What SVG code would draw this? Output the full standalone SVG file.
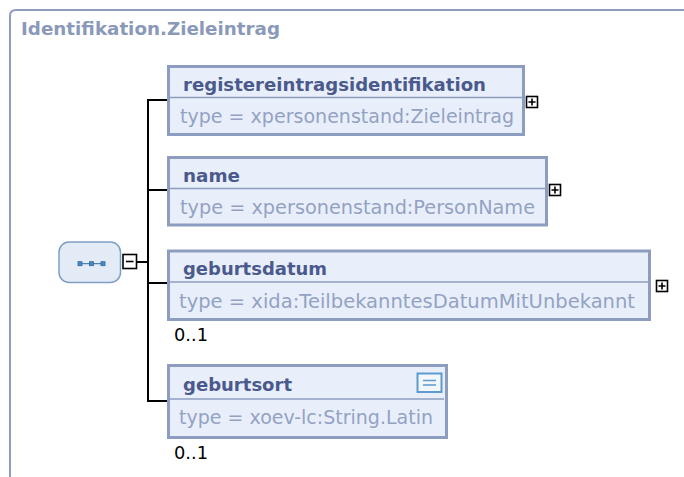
<svg xmlns="http://www.w3.org/2000/svg" width="684" height="477" viewBox="0 0 684 477">
<style>
.frame{fill:none;stroke:#8d9dc0;stroke-width:2}
.title{font-family:"DejaVu Sans",Verdana,sans-serif;font-weight:bold;font-size:18px;fill:#8a99ba}
.box{fill:#e9effa;stroke:#8d9dc0;stroke-width:3}
.div{stroke:#8d9dc0;stroke-width:1.5}
.hdr{font-family:"DejaVu Sans",Verdana,sans-serif;font-weight:bold;font-size:18.5px;fill:#4b5a8c}
.typ{font-family:"DejaVu Sans",Verdana,sans-serif;font-size:19px;fill:#93a2c4}
.occ{font-family:"DejaVu Sans",Verdana,sans-serif;font-size:18px;fill:#000}
.conn{fill:none;stroke:#000;stroke-width:2}
.tog{fill:#fff;stroke:#000;stroke-width:1.6}
.sign{stroke:#000;stroke-width:1.6}
</style>
<path class="frame" d="M10,477 V16 Q10,10 16,10 H684"/>
<text class="title" x="21" y="35" textLength="259" lengthAdjust="spacingAndGlyphs">Identifikation.Zieleintrag</text>

<g id="connectors">
<path class="conn" d="M137,262 H148 M148,99 V402 M148,100 H168 M148,190 H168 M148,283 H168 M148,401 H168"/>
</g>

<g id="sequence">
<rect x="59" y="242" width="61.5" height="40.5" rx="10" fill="#e2ebf6" stroke="#7f9ec5" stroke-width="1.5"/>
<path d="M80,263.7 H103" stroke="#2e6aa3" stroke-width="1"/>
<rect x="78" y="261.7" width="4" height="4" fill="#4a88c2" stroke="#2e6aa3" stroke-width="0.8"/>
<rect x="89.5" y="261.7" width="4" height="4" fill="#4a88c2" stroke="#2e6aa3" stroke-width="0.8"/>
<rect x="101" y="261.7" width="4" height="4" fill="#4a88c2" stroke="#2e6aa3" stroke-width="0.8"/>
<rect class="tog" x="123" y="254.5" width="13.5" height="14"/>
<path class="sign" d="M126,261.5 H133.5"/>
</g>

<g id="node-registereintragsidentifikation">
<rect class="box" x="168.5" y="66.5" width="355" height="68"/>
<path class="div" d="M170,97.5 H522"/>
<text class="hdr" x="183" y="91" textLength="303" lengthAdjust="spacingAndGlyphs">registereintragsidentifikation</text>
<text class="typ" x="180" y="123" textLength="334" lengthAdjust="spacingAndGlyphs">type = xpersonenstand:Zieleintrag</text>
<rect class="tog" x="526.5" y="96.5" width="11" height="11"/>
<path class="sign" d="M528.5,102 H535.5 M532,98.5 V105.5"/>
</g>

<g id="node-name">
<rect class="box" x="168.5" y="157.5" width="378" height="67.5"/>
<path class="div" d="M170,188.5 H545"/>
<text class="hdr" x="183" y="182" textLength="57" lengthAdjust="spacingAndGlyphs">name</text>
<text class="typ" x="180" y="213.5" textLength="355" lengthAdjust="spacingAndGlyphs">type = xpersonenstand:PersonName</text>
<rect class="tog" x="549.5" y="184.5" width="11" height="11"/>
<path class="sign" d="M551.5,190 H558.5 M555,186.5 V193.5"/>
</g>

<g id="node-geburtsdatum">
<rect class="box" x="168.5" y="251" width="481" height="68.5"/>
<path class="div" d="M170,282 H648"/>
<text class="hdr" x="183" y="275" textLength="144" lengthAdjust="spacingAndGlyphs">geburtsdatum</text>
<text class="typ" x="179" y="308" textLength="456" lengthAdjust="spacingAndGlyphs">type = xida:TeilbekanntesDatumMitUnbekannt</text>
<rect class="tog" x="656.5" y="280.5" width="11" height="11"/>
<path class="sign" d="M658.5,286 H665.5 M662,282.5 V289.5"/>
<text class="occ" x="174" y="341" textLength="34" lengthAdjust="spacingAndGlyphs">0..1</text>
</g>

<g id="node-geburtsort">
<rect class="box" x="168.5" y="365.5" width="278" height="72"/>
<path class="div" d="M170,399 H444"/>
<text class="hdr" x="183" y="391" textLength="109" lengthAdjust="spacingAndGlyphs">geburtsort</text>
<text class="typ" x="179" y="424" textLength="254" lengthAdjust="spacingAndGlyphs">type = xoev-lc:String.Latin</text>
<rect x="417.5" y="373.5" width="24" height="18.5" fill="#f3f7fc" stroke="#5b9bd0" stroke-width="2"/>
<path d="M423,380.5 H436 M423,385 H436" stroke="#5b9bd0" stroke-width="1.5"/>
<text class="occ" x="174" y="459" textLength="34" lengthAdjust="spacingAndGlyphs">0..1</text>
</g>
</svg>
